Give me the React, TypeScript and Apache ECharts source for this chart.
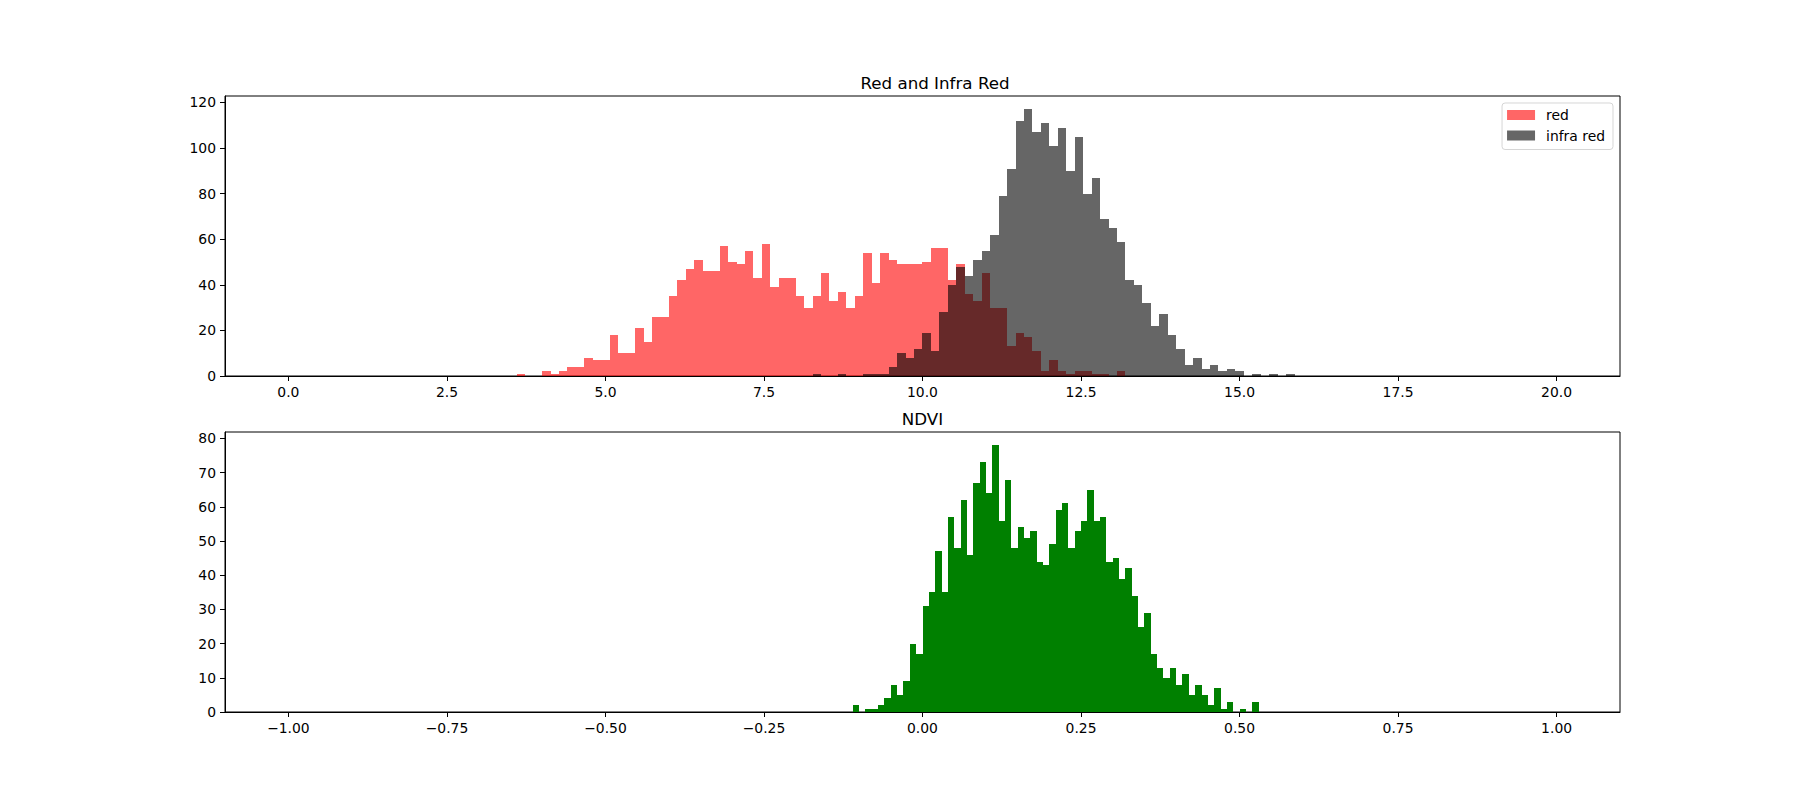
import React, { useEffect, useRef } from "react";
import * as echarts from "echarts";

// ---- histogram data ----
const BAND_BINS = 150;
const BAND_RANGE = [0, 20];
const RED_FIRST_BIN = 27;
const redCounts = [
  1, 0, 0, 2, 1, 2, 4, 4, 8, 7, 7, 18, 10, 10, 21, 15, 26, 26, 35, 42, 47, 51, 46, 46, 57, 50, 49, 55, 43, 58,
  39, 43, 43, 35, 30, 35, 45, 33, 37, 30, 35, 54, 41, 54, 51, 49, 49, 49, 50, 56, 56, 42, 49, 36, 33, 45, 30, 30,
  13, 19, 17, 11, 2, 7, 2, 1, 2, 2, 1, 1, 0, 2,
];
const IR_FIRST_BIN = 62;
const infraRedCounts = [
  1, 0, 0, 1, 0, 0, 1, 1, 1, 4, 10, 8, 12, 19, 11, 28, 40, 48, 44, 51, 55, 62, 79, 91, 112, 117, 107, 111, 101,
  109, 90, 105, 80, 87, 69, 65, 59, 42, 40, 32, 22, 27, 18, 12, 5, 8, 3, 5, 2, 3, 2, 0, 1, 0, 1, 0, 1,
];

const NDVI_BINS = 200;
const NDVI_RANGE = [-1, 1];
const NDVI_FIRST_BIN = 89;
const ndviCounts = [
  2, 0, 1, 1, 2, 4, 8, 5, 9, 20, 17, 31, 35, 47, 35, 57, 48, 62, 46, 67, 73, 64, 78, 56, 68, 48, 54, 51, 53, 44,
  43, 49, 59, 61, 48, 53, 56, 65, 56, 57, 44, 45, 39, 42, 34, 25, 29, 17, 13, 10, 13, 8, 11, 5, 8, 5, 2, 7, 1, 3,
  0, 1, 0, 3,
];

const bandTicks = [0, 2.5, 5, 7.5, 10, 12.5, 15, 17.5, 20];
const ndviTicks = [-1, -0.75, -0.5, -0.25, 0, 0.25, 0.5, 0.75, 1];
const bandYTicks = [0, 20, 40, 60, 80, 100, 120];
const ndviYTicks = [0, 10, 20, 30, 40, 50, 60, 70, 80];

const TITLE_TOP = "Red and Infra Red";
const TITLE_BOTTOM = "NDVI";
const LEGEND_RED = "red";
const LEGEND_IR = "infra red";

function toBins(first: number, counts: number[], nBins: number, range: number[]) {
  const w = (range[1] - range[0]) / nBins;
  const out: number[][] = [];
  counts.forEach((c, i) => {
    if (c > 0) {
      const k = first + i;
      out.push([range[0] + k * w, range[0] + (k + 1) * w, c]);
    }
  });
  return out;
}

const FONT = "DejaVu Sans";

const renderBar = (params: any, api: any) => {
  const x0 = api.value(0);
  const x1 = api.value(1);
  const c = api.value(2);
  const p0 = api.coord([x0, c]);
  const p1 = api.coord([x1, 0]);
  const left = Math.round(p0[0]);
  const right = Math.round(p1[0]);
  const top = Math.round(p0[1]);
  const bottom = Math.round(p1[1]);
  return {
    type: "rect",
    shape: { x: left, y: top, width: right - left, height: bottom - top },
    style: { fill: api.visual("color") },
  };
};

function xAxisFor(gridIndex: number, min: number, max: number, ticks: number[], fmt: (v: number) => string) {
  return {
    type: "value",
    gridIndex,
    min,
    max,
    z: 5,
    splitLine: { show: false },
    axisLine: { show: true, onZero: false, lineStyle: { color: "#000", width: 1 } },
    axisTick: { show: true, length: 5, inside: false, customValues: ticks, lineStyle: { color: "#000", width: 1 } },
    axisLabel: {
      show: true,
      customValues: ticks,
      margin: 9,
      color: "#000",
      fontSize: 13.9,
      fontFamily: FONT,
      formatter: (v: number) => fmt(v),
    },
  };
}

function yAxisFor(gridIndex: number, max: number, ticks: number[]) {
  return {
    type: "value",
    gridIndex,
    min: 0,
    max,
    z: 5,
    splitLine: { show: false },
    axisLine: { show: true, onZero: false, lineStyle: { color: "#000", width: 1 } },
    axisTick: { show: true, length: 5, inside: false, customValues: ticks, lineStyle: { color: "#000", width: 1 } },
    axisLabel: {
      show: true,
      customValues: ticks,
      margin: 9,
      color: "#000",
      fontSize: 13.9,
      fontFamily: FONT,
      formatter: (v: number) => String(Math.round(v)),
    },
  };
}

const fmtNeg = (s: string) => s.replace("-", "\u2212");

export default function App() {
  const ref = useRef<HTMLDivElement>(null);
  useEffect(() => {
    document.body.style.margin = "0";
    if (!ref.current) return;
    const chart = echarts.init(ref.current, null, { renderer: "svg" });
    const redData = toBins(RED_FIRST_BIN, redCounts, BAND_BINS, BAND_RANGE);
    const irData = toBins(IR_FIRST_BIN, infraRedCounts, BAND_BINS, BAND_RANGE);
    const ndviData = toBins(NDVI_FIRST_BIN, ndviCounts, NDVI_BINS, NDVI_RANGE);
    const topMax = Math.max(...redCounts, ...infraRedCounts) * 1.05;
    const botMax = Math.max(...ndviCounts) * 1.05;
    const bandPad = (BAND_RANGE[1] - BAND_RANGE[0]) * 0.05;
    const ndviPad = (NDVI_RANGE[1] - NDVI_RANGE[0]) * 0.05;

    const option: any = {
      animation: false,
      backgroundColor: "#fff",
      textStyle: { fontFamily: FONT },
      grid: [
        { left: 225, width: 1395, top: 96, height: 280, show: true, borderColor: "#000", borderWidth: 1, backgroundColor: "transparent" },
        { left: 225, width: 1395, top: 432, height: 280, show: true, borderColor: "#000", borderWidth: 1, backgroundColor: "transparent" },
      ],
      xAxis: [
        xAxisFor(0, BAND_RANGE[0] - bandPad, BAND_RANGE[1] + bandPad, bandTicks, (v) => fmtNeg(v.toFixed(1))),
        xAxisFor(1, NDVI_RANGE[0] - ndviPad, NDVI_RANGE[1] + ndviPad, ndviTicks, (v) => fmtNeg(v.toFixed(2))),
      ],
      yAxis: [yAxisFor(0, topMax, bandYTicks), yAxisFor(1, botMax, ndviYTicks)],
      legend: {
        data: [LEGEND_RED, LEGEND_IR],
        orient: "vertical",
        right: 187,
        top: 103,
        icon: "rect",
        itemWidth: 28,
        itemHeight: 10,
        itemGap: 6.5,
        padding: [5, 8, 7, 5],
        backgroundColor: "rgba(255,255,255,0.8)",
        borderColor: "rgba(204,204,204,0.8)",
        borderWidth: 1,
        borderRadius: 3,
        selectedMode: false,
        textStyle: { fontSize: 13.9, color: "#000", fontFamily: FONT, lineHeight: 14, padding: [0, 0, 0, 6] },
      },
      graphic: [
        {
          type: "text",
          x: 935,
          y: 91,
          style: {
            text: TITLE_TOP,
            fill: "#000",
            fontSize: 16.7,
            fontFamily: FONT,
            align: "center",
            verticalAlign: "bottom",
            textAlign: "center",
            textVerticalAlign: "bottom",
          },
        },
        {
          type: "text",
          x: 922.5,
          y: 427,
          style: {
            text: TITLE_BOTTOM,
            fill: "#000",
            fontSize: 16.7,
            fontFamily: FONT,
            align: "center",
            verticalAlign: "bottom",
            textAlign: "center",
            textVerticalAlign: "bottom",
          },
        },
      ],
      series: [
        {
          name: LEGEND_RED,
          type: "custom",
          xAxisIndex: 0,
          yAxisIndex: 0,
          renderItem: renderBar,
          encode: { x: [0, 1], y: 2 },
          itemStyle: { color: "rgba(255,0,0,0.6)" },
          data: redData,
          z: 2,
        },
        {
          name: LEGEND_IR,
          type: "custom",
          xAxisIndex: 0,
          yAxisIndex: 0,
          renderItem: renderBar,
          encode: { x: [0, 1], y: 2 },
          itemStyle: { color: "rgba(0,0,0,0.6)" },
          data: irData,
          z: 2,
        },
        {
          name: "ndvi",
          type: "custom",
          xAxisIndex: 1,
          yAxisIndex: 1,
          renderItem: renderBar,
          encode: { x: [0, 1], y: 2 },
          itemStyle: { color: "#008000" },
          data: ndviData,
          z: 2,
        },
      ],
    };
    chart.setOption(option);
    return () => chart.dispose();
  }, []);
  return <div ref={ref} style={{ width: 1800, height: 800 }} />;
}
